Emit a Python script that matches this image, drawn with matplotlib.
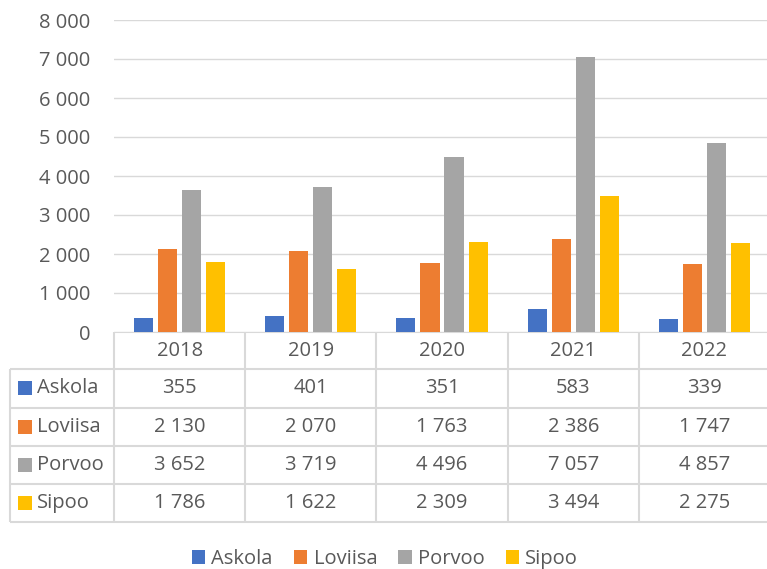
import matplotlib
matplotlib.use('Agg')
import matplotlib.pyplot as plt
import numpy as np

# data
years = ['2018', '2019', '2020', '2021', '2022']
series_names = ['Askola', 'Loviisa', 'Porvoo', 'Sipoo']
askola = [355, 401, 351, 583, 339]
loviisa = [2130, 2070, 1763, 2386, 1747]
porvoo = [3652, 3719, 4496, 7057, 4857]
sipoo = [1786, 1622, 2309, 3494, 2275]
y_ticks = [0, 1000, 2000, 3000, 4000, 5000, 6000, 7000, 8000]

colors = ['#4472C4', '#ED7D31', '#A5A5A5', '#FFC000']
text_col = '#595959'
line_col = '#D9D9D9'
fs = 14.5

plt.rcParams['font.family'] = ['Open Sans', 'DejaVu Sans']


def fmt(v):
    # thousands separated by a space
    return '{:,}'.format(v).replace(',', ' ')


W, H = 767, 569
fig = plt.figure(figsize=(W / 100, H / 100), dpi=100)

# plot area in pixel terms
left_px, right_px, top_px, zero_px = 114, 770, 20, 332
ax = fig.add_axes([left_px / W, (H - zero_px) / H, (right_px - left_px) / W, (zero_px - top_px) / H])

all_series = [askola, loviisa, porvoo, sipoo]
x = np.arange(len(years)) + 0.5
bar_w = 0.145
step = 0.183
handles = []
for i, vals in enumerate(all_series):
    b = ax.bar(x + (i - 1.5) * step, vals, width=bar_w, color=colors[i], zorder=3, label=series_names[i])
    handles.append(b)

ax.set_xlim(0, len(years))
ax.set_ylim(0, 8000)
ax.set_yticks(y_ticks)
ax.set_yticklabels([fmt(v) for v in y_ticks])
ax.tick_params(axis='y', length=0, pad=17, labelsize=fs, labelcolor=text_col)
ax.set_xticks([])
ax.grid(axis='y', color=line_col, linewidth=1.0, zorder=0)
for s in ax.spines.values():
    s.set_visible(False)

# data table drawn in pixel coordinates
tab = fig.add_axes([0, 0, 1, 1], zorder=-1)
tab.set_xlim(0, W)
tab.set_ylim(H, 0)
tab.axis('off')

col_w = (right_px - left_px) / len(years)
col_edges = [left_px + i * col_w for i in range(len(years) + 1)]
row_edges = [332, 369, 407.5, 446, 484, 522]
lw = 1.5
tab.hlines(row_edges[0], left_px, right_px, color=line_col, lw=lw)
tab.hlines(row_edges[1:], 10, right_px, color=line_col, lw=lw)
tab.vlines(10, row_edges[1], row_edges[-1], color=line_col, lw=lw)
tab.vlines(col_edges, row_edges[0], row_edges[-1], color=line_col, lw=lw)

for j, yr in enumerate(years):
    cx = (col_edges[j] + col_edges[j + 1]) / 2
    tab.text(cx, (row_edges[0] + row_edges[1]) / 2, yr, ha='center', va='center',
             fontsize=fs, color=text_col)
for i, vals in enumerate(all_series):
    cy = (row_edges[i + 1] + row_edges[i + 2]) / 2
    tab.add_patch(plt.Rectangle((18, cy - 7), 14, 14, color=colors[i], lw=0))
    tab.text(37, cy, series_names[i], ha='left', va='center', fontsize=fs, color=text_col)
    for j, v in enumerate(vals):
        cx = (col_edges[j] + col_edges[j + 1]) / 2
        tab.text(cx, cy, fmt(v), ha='center', va='center', fontsize=fs, color=text_col)

leg = fig.legend(handles=handles, labels=series_names, loc='center', bbox_to_anchor=(0.502, 0.017),
                 ncol=4, frameon=False, fontsize=fs, handlelength=0.67, handleheight=0.67,
                 handletextpad=0.3, columnspacing=1.05, borderpad=0)
for t in leg.get_texts():
    t.set_color(text_col)

fig.savefig('out.png', dpi=100)
